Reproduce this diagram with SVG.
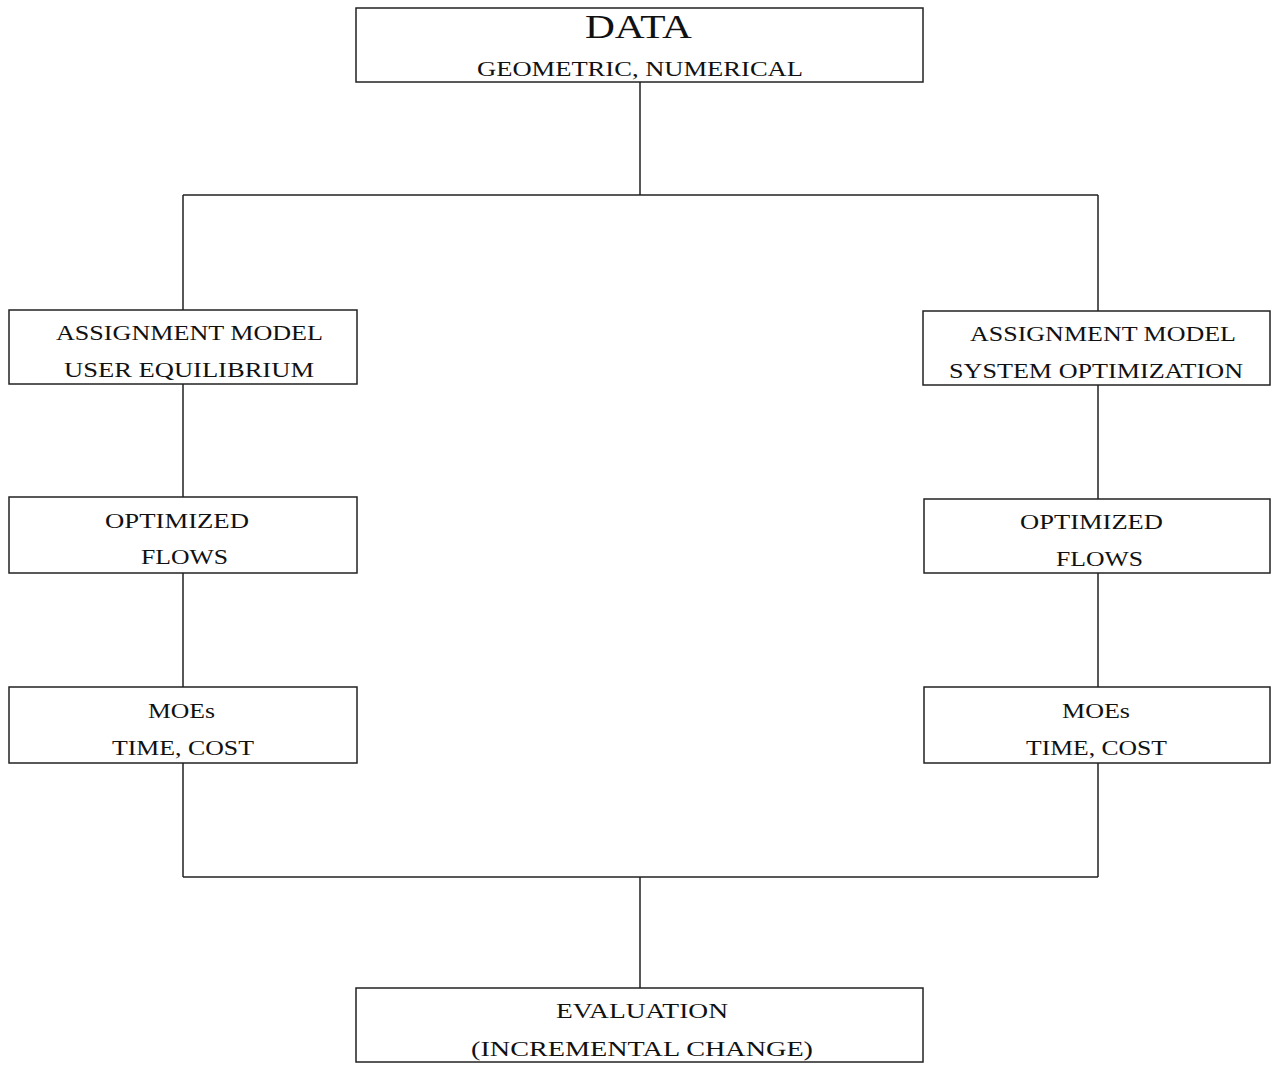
<svg xmlns="http://www.w3.org/2000/svg" width="1273" height="1065" viewBox="0 0 1273 1065">
<style>
.box{fill:#fff;stroke:#222;stroke-width:1.5}
.ln{fill:none;stroke:#222;stroke-width:1.5}
text{font-family:"Liberation Serif","Times New Roman",serif;font-size:22px;fill:#111}
.big{font-size:33px}
</style>
<rect width="1273" height="1065" fill="#fff"/>
<g id="connectors">
<path class="ln" d="M640,82 V195 M183,195 H1098 M183,195 V310 M1098,195 V311"/>
<path class="ln" d="M183,384 V497 M1098,385 V499 M183,573 V687 M1098,573 V687"/>
<path class="ln" d="M183,763 V877 M1098,763 V877 M183,877 H1098 M640,877 V988"/>
</g>
<g id="data">
<rect class="box" x="356" y="8" width="567" height="74"/>
<text class="big" x="585" y="38" textLength="107" lengthAdjust="spacingAndGlyphs">DATA</text>
<text x="477" y="76" textLength="326" lengthAdjust="spacingAndGlyphs">GEOMETRIC, NUMERICAL</text>
</g>
<g id="assign-ue">
<rect class="box" x="9" y="310" width="348" height="74"/>
<text x="56" y="340" textLength="267" lengthAdjust="spacingAndGlyphs">ASSIGNMENT MODEL</text>
<text x="64" y="377" textLength="250" lengthAdjust="spacingAndGlyphs">USER EQUILIBRIUM</text>
</g>
<g id="assign-so">
<rect class="box" x="923" y="311" width="347" height="74"/>
<text x="970" y="341" textLength="266" lengthAdjust="spacingAndGlyphs">ASSIGNMENT MODEL</text>
<text x="949" y="378" textLength="294" lengthAdjust="spacingAndGlyphs">SYSTEM OPTIMIZATION</text>
</g>
<g id="flows-ue">
<rect class="box" x="9" y="497" width="348" height="76"/>
<text x="105" y="528" textLength="144" lengthAdjust="spacingAndGlyphs">OPTIMIZED</text>
<text x="141" y="564" textLength="87" lengthAdjust="spacingAndGlyphs">FLOWS</text>
</g>
<g id="flows-so">
<rect class="box" x="924" y="499" width="346" height="74"/>
<text x="1020" y="529" textLength="143" lengthAdjust="spacingAndGlyphs">OPTIMIZED</text>
<text x="1056" y="566" textLength="87" lengthAdjust="spacingAndGlyphs">FLOWS</text>
</g>
<g id="moes-ue">
<rect class="box" x="9" y="687" width="348" height="76"/>
<text x="148" y="718" textLength="67" lengthAdjust="spacingAndGlyphs">MOEs</text>
<text x="112" y="755" textLength="142" lengthAdjust="spacingAndGlyphs">TIME, COST</text>
</g>
<g id="moes-so">
<rect class="box" x="924" y="687" width="346" height="76"/>
<text x="1062" y="718" textLength="68" lengthAdjust="spacingAndGlyphs">MOEs</text>
<text x="1026" y="755" textLength="141" lengthAdjust="spacingAndGlyphs">TIME, COST</text>
</g>
<g id="evaluation">
<rect class="box" x="356" y="988" width="567" height="74"/>
<text x="556" y="1018" textLength="172" lengthAdjust="spacingAndGlyphs">EVALUATION</text>
<text x="471" y="1056" textLength="342" lengthAdjust="spacingAndGlyphs">(INCREMENTAL CHANGE)</text>
</g>
</svg>
